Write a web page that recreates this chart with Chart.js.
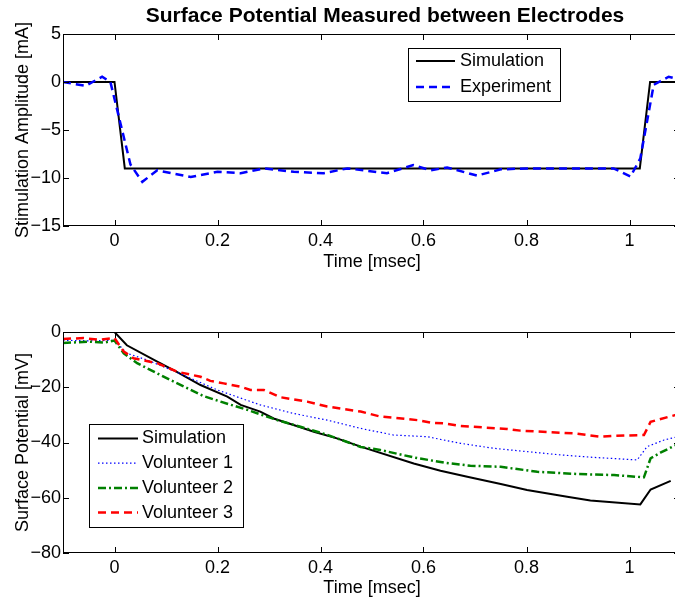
<!DOCTYPE html>
<html>
<head>
<meta charset="utf-8">
<script src="https://cdn.jsdelivr.net/npm/chart.js"></script>
<style>
    html, body { margin: 0; padding: 0; background: #fff; overflow: hidden; width: 675px; height: 601px; }
    .panel { position: absolute; left: 0; }
</style>
</head>
<body>
<div class="panel" style="top:0px"><canvas id="ampChart" width="681" height="280"></canvas></div>
<div class="panel" style="top:300px"><canvas id="potChart" width="681" height="301"></canvas></div>
<script>
// ---- data ----
var TITLE = "Surface Potential Measured between Electrodes";
var X_TICKS = [0, 0.2, 0.4, 0.6, 0.8, 1];

// top panel: stimulation amplitude [mA]
var simTime = [-0.1, 0, 0.02, 1.02, 1.04, 1.1];
var simAmp  = [0, 0, -9, -9, 0, 0];

var expTime = [-0.1, -0.056, -0.024, -0.008, 0.031, 0.054, 0.083, 0.148, 0.2, 0.245, 0.29, 0.348, 0.406, 0.452,
               0.529, 0.58, 0.614, 0.646, 0.704, 0.75, 0.8, 0.969, 1.002, 1.021, 1.047, 1.076, 1.1];
var expAmp  = [0, -0.4, 0.55, 0, -8.6, -10.4, -9.2, -9.9, -9.35, -9.5, -9.0, -9.35, -9.5, -9.0,
               -9.5, -8.65, -9.2, -8.9, -9.75, -9.1, -9.0, -9.0, -9.85, -7.95, -0.3, 0.55, 0.2];

// bottom panel: surface potential [mV]
var potSimTime = [-0.1, 0, 0.024, 0.083, 0.121, 0.167, 0.219, 0.245, 0.283, 0.309, 0.361, 0.387, 0.432, 0.478,
                  0.581, 0.633, 0.685, 0.75, 0.801, 0.879, 0.924, 1.021, 1.041, 1.08];
var potSim     = [0, 0, -4.8, -10.7, -14.4, -19.2, -23.4, -26.4, -28.8, -31.3, -34.5, -36.1, -38.5, -41.5,
                  -47.6, -50.2, -52.4, -55.0, -57.2, -59.6, -61.0, -62.4, -57.0, -53.9];

var vol1Time = [-0.1, -0.05, 0, 0.024, 0.063, 0.12, 0.2, 0.283, 0.348, 0.413, 0.478, 0.542, 0.607, 0.672,
                0.736, 0.801, 0.866, 0.931, 1.015, 1.034, 1.067, 1.1];
var vol1     = [-3.0, -3.2, -3.0, -7.7, -10.1, -14.5, -21.0, -26.4, -29.5, -31.9, -34.9, -37.3, -37.9, -40.3,
                -42.1, -43.3, -44.5, -45.4, -46.3, -41.5, -39.1, -37.6];

var vol2Time = [-0.1, -0.05, -0.02, 0, 0.018, 0.044, 0.083, 0.109, 0.173, 0.206, 0.258, 0.316, 0.361, 0.413,
                0.478, 0.516, 0.581, 0.64, 0.691, 0.75, 0.821, 0.898, 0.97, 1.028, 1.041, 1.06, 1.1];
var vol2     = [-4.0, -3.5, -3.8, -3.1, -7.7, -11.3, -15.0, -17.4, -23.2, -25.2, -28.2, -31.9, -34.3, -37.2,
                -41.6, -42.7, -45.4, -47.3, -48.4, -48.8, -50.6, -51.4, -51.8, -52.6, -45.7, -43.7, -40.0];

var vol3Time = [-0.1, -0.06, -0.03, 0, 0.018, 0.037, 0.083, 0.122, 0.167, 0.186, 0.212, 0.245, 0.264, 0.29,
                0.322, 0.374, 0.413, 0.478, 0.516, 0.588, 0.614, 0.64, 0.672, 0.762, 0.788, 0.892, 0.944, 0.97,
                1.028, 1.041, 1.1];
var vol3     = [-2.5, -2.2, -2.8, -2.2, -7.1, -9.5, -11.3, -14.4, -16.2, -17.7, -18.6, -19.8, -21.0, -21.0,
                -23.6, -25.2, -27.0, -28.8, -30.6, -31.9, -32.8, -33.1, -34.0, -35.1, -35.7, -36.7, -37.9, -37.6,
                -37.3, -32.5, -29.5];

function pts(xs, ys) {
    return xs.map(function (x, i) { return { x: x, y: ys[i] }; });
}

function fmt(v) {
    return String(Math.round(v * 10) / 10).replace("-", "\u2212");
}

Chart.defaults.font.family = '"Liberation Sans", Arial, Helvetica, sans-serif';
Chart.defaults.font.size = 18;
Chart.defaults.color = "#000";

// box + inward tick marks like matlab axes, legend box and title
var matlabAxes = {
    id: "matlabAxes",
    afterDatasetsDraw: function (chart, args, opts) {
        var ctx = chart.ctx, a = chart.chartArea;
        var xs = chart.scales.x, ys = chart.scales.y;
        ctx.save();
        ctx.strokeStyle = "#000";
        ctx.lineWidth = 1;
        ctx.strokeRect(a.left + 0.5, a.top + 0.5, a.right - a.left - 1, a.bottom - a.top - 1);
        ctx.beginPath();
        xs.ticks.forEach(function (t) {
            var px = Math.round(xs.getPixelForValue(t.value)) + 0.5;
            ctx.moveTo(px, a.bottom); ctx.lineTo(px, a.bottom - 6);
            ctx.moveTo(px, a.top); ctx.lineTo(px, a.top + 6);
        });
        ys.ticks.forEach(function (t) {
            var py = Math.round(ys.getPixelForValue(t.value)) + 0.5;
            ctx.moveTo(a.left, py); ctx.lineTo(a.left + 6, py);
            ctx.moveTo(a.right, py); ctx.lineTo(a.right - 7, py);
        });
        ctx.stroke();

        // legend
        var lg = opts.legend;
        if (lg) {
            ctx.fillStyle = "#fff";
            ctx.fillRect(lg.left, lg.top, lg.width, lg.height);
            ctx.strokeRect(lg.left + 0.5, lg.top + 0.5, lg.width, lg.height);
            ctx.font = '18px "Liberation Sans", Arial, sans-serif';
            ctx.textBaseline = "middle";
            ctx.textAlign = "left";
            chart.data.datasets.forEach(function (ds, i) {
                var y = lg.firstRow + i * lg.rowStep;
                ctx.beginPath();
                ctx.strokeStyle = ds.borderColor;
                ctx.lineWidth = ds.borderWidth;
                ctx.setLineDash(ds.borderDash || []);
                ctx.moveTo(lg.sampleX, y);
                ctx.lineTo(lg.sampleX + lg.sampleW, y);
                ctx.stroke();
                ctx.setLineDash([]);
                ctx.fillStyle = "#000";
                ctx.fillText(ds.label, lg.textX, y);
            });
        }

        if (opts.title) {
            ctx.font = 'bold 21px "Liberation Sans", Arial, sans-serif';
            ctx.fillStyle = "#000";
            ctx.textAlign = "center";
            ctx.textBaseline = "alphabetic";
            ctx.fillText(opts.title.text, opts.title.x, opts.title.y);
        }
        ctx.restore();
    }
};

function xAxis(h, padBottom) {
    return {
        type: "linear",
        min: -0.1,
        max: 1.1,
        grid: { display: false, drawTicks: false },
        border: { display: false },
        afterBuildTicks: function (s) { s.ticks = X_TICKS.map(function (v) { return { value: v }; }); },
        afterFit: function (s) { s.height = h; },
        ticks: { padding: 4, maxRotation: 0, callback: function (v) { return fmt(v); } },
        title: { display: true, text: "Time [msec]", padding: { top: 0, bottom: padBottom } }
    };
}

function yAxis(min, max, step, label) {
    return {
        min: min,
        max: max,
        grid: { display: false, drawTicks: false },
        border: { display: false },
        afterFit: function (s) { s.width = 63; },
        ticks: { stepSize: step, padding: 2, callback: function (v) { return fmt(v); } },
        title: { display: true, text: label, padding: { top: 12, bottom: 0 } }
    };
}

new Chart("ampChart", {
    type: "line",
    data: {
        datasets: [{
            label: "Simulation",
            data: pts(simTime, simAmp),
            borderColor: "#000000",
            borderWidth: 2,
            order: 2
        }, {
            label: "Experiment",
            data: pts(expTime, expAmp),
            borderColor: "#0000ff",
            borderWidth: 2.5,
            borderDash: [8, 5],
            order: 1
        }]
    },
    options: {
        responsive: false,
        animation: false,
        parsing: true,
        elements: { point: { radius: 0 }, line: { tension: 0 } },
        layout: { padding: { top: 34, right: 0, bottom: 0, left: 0 } },
        scales: {
            x: xAxis(54, 7),
            y: yAxis(-15, 5, 5, "Stimulation Amplitude [mA]")
        },
        plugins: {
            legend: { display: false },
            tooltip: { enabled: false },
            matlabAxes: {
                legend: { left: 408, top: 48, width: 152, height: 53, firstRow: 61, rowStep: 26, sampleX: 416, sampleW: 39, textX: 460 },
                title: { text: TITLE, x: 385, y: 22 }
            }
        }
    },
    plugins: [matlabAxes]
});

new Chart("potChart", {
    type: "line",
    data: {
        datasets: [{
            label: "Simulation",
            data: pts(potSimTime, potSim),
            borderColor: "#000000",
            borderWidth: 2,
            order: 4
        }, {
            label: "Volunteer 1",
            data: pts(vol1Time, vol1),
            borderColor: "#0000ff",
            borderWidth: 1.2,
            borderDash: [1.5, 2.5],
            order: 3
        }, {
            label: "Volunteer 2",
            data: pts(vol2Time, vol2),
            borderColor: "#008000",
            borderWidth: 2.5,
            borderDash: [8, 3, 2, 3],
            order: 2
        }, {
            label: "Volunteer 3",
            data: pts(vol3Time, vol3),
            borderColor: "#ff0000",
            borderWidth: 2.5,
            borderDash: [8, 5],
            order: 1
        }]
    },
    options: {
        responsive: false,
        animation: false,
        elements: { point: { radius: 0 }, line: { tension: 0 } },
        layout: { padding: { top: 32, right: 0, bottom: 0, left: 0 } },
        scales: {
            x: xAxis(48, 2),
            y: yAxis(-80, 0, 20, "Surface Potential [mV]")
        },
        plugins: {
            legend: { display: false },
            tooltip: { enabled: false },
            matlabAxes: {
                legend: { left: 89, top: 124, width: 154, height: 103, firstRow: 138.5, rowStep: 24.7, sampleX: 98, sampleW: 40, textX: 142 }
            }
        }
    },
    plugins: [matlabAxes]
});
</script>
</body>
</html>
